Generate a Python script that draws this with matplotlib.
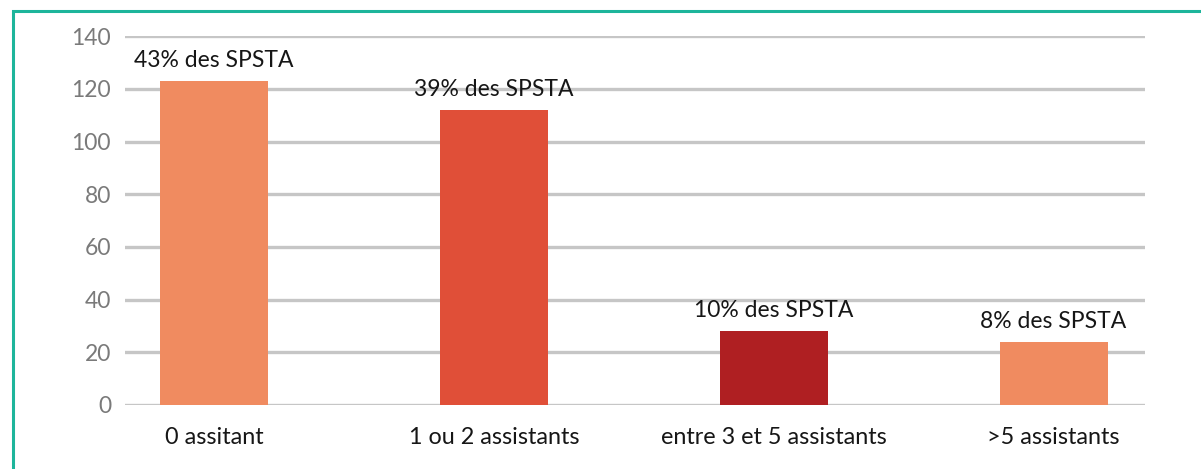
import matplotlib
matplotlib.use("Agg")
import matplotlib.pyplot as plt
import matplotlib.patches as patches

categories = ["0 assitant", "1 ou 2 assistants", "entre 3 et 5 assistants", ">5 assistants"]
values = [123, 112, 28, 24]
labels = ["43% des SPSTA", "39% des SPSTA", "10% des SPSTA", "8% des SPSTA"]
colors = ["#f08b60", "#e04f38", "#af1f22", "#f08b60"]
yticks = [0, 20, 40, 60, 80, 100, 120, 140]

plt.rcParams['font.family'] = ['Lato', 'DejaVu Sans']

fig = plt.figure(figsize=(12.01, 4.69), dpi=100)
ax = fig.add_axes([0.104, 0.1365, 0.849, 0.7865])

x = range(len(categories))
bars = ax.bar(x, values, width=0.386, color=colors, zorder=3)

for b, lab in zip(bars, labels):
    ax.annotate(lab, (b.get_x() + b.get_width() / 2, b.get_height()),
                xytext=(0, 7), textcoords="offset points",
                ha="center", va="bottom", fontsize=16.5, color="#161616")

ax.set_xlim(-0.318, 3.325)
ax.set_ylim(0, 140)
ax.set_yticks(yticks)
ax.set_xticks(list(x))
ax.set_xticklabels(categories, fontsize=16.8, color="#161616")
ax.tick_params(axis="y", labelsize=16.5, labelcolor="#7a7a7a", length=0, pad=10)
ax.tick_params(axis="x", length=0, pad=16)
ax.grid(axis="y", color="#c6c6c6", linewidth=2.4, zorder=0)
ax.set_axisbelow(True)
for s in ax.spines.values():
    s.set_visible(False)

# teal frame (right and bottom sides fall outside the picture)
frame = patches.Rectangle((13 / 1201, -0.1), 1.2, 1.1 - 11 / 469,
                          transform=fig.transFigure, fill=False,
                          edgecolor="#1db59b", linewidth=2.2)
fig.patches.append(frame)

fig.savefig("out.png", dpi=100)
